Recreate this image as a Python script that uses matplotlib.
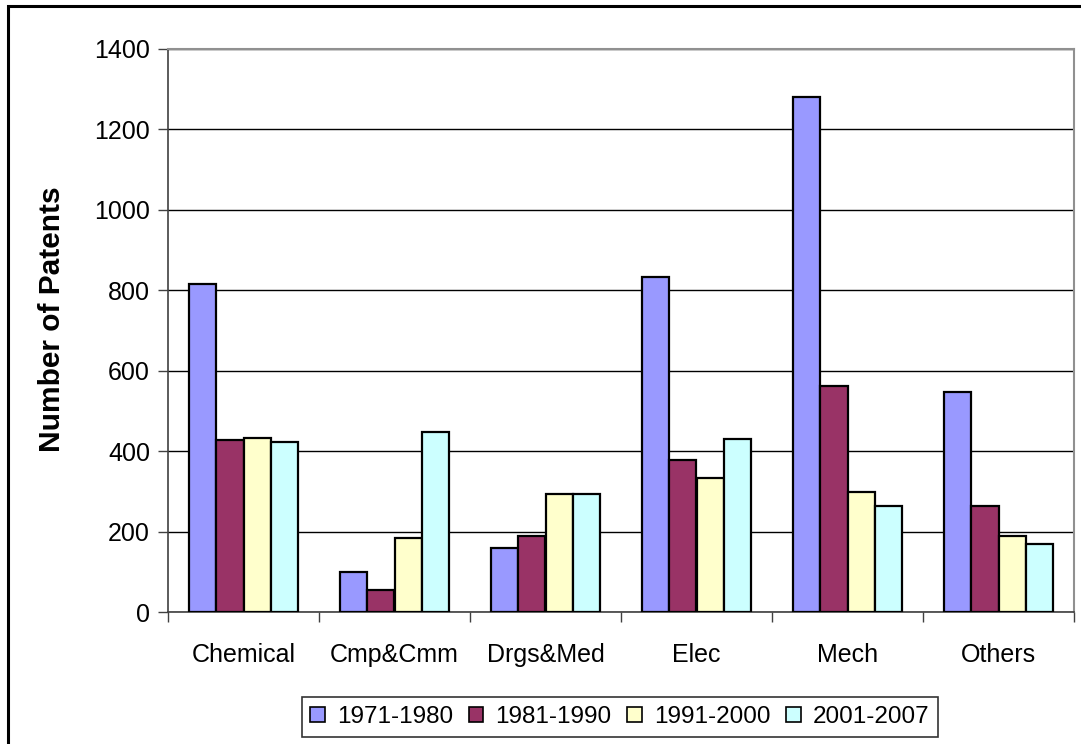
import matplotlib
matplotlib.use("Agg")
import matplotlib.pyplot as plt
import numpy as np
from matplotlib.patches import Rectangle

plt.rcParams['font.family'] = ['Liberation Sans', 'DejaVu Sans']

categories = ["Chemical", "Cmp&Cmm", "Drgs&Med", "Elec", "Mech", "Others"]
periods = ["1971-1980", "1981-1990", "1991-2000", "2001-2007"]
counts_1971_1980 = [816, 99, 159, 833, 1280, 546]
counts_1981_1990 = [427, 54, 189, 377, 561, 263]
counts_1991_2000 = [432, 184, 293, 332, 299, 188]
counts_2001_2007 = [422, 447, 293, 431, 263, 169]
series = [counts_1971_1980, counts_1981_1990, counts_1991_2000, counts_2001_2007]
colors = ["#9999FF", "#993366", "#FFFFCC", "#CCFFFF"]
y_ticks = [0, 200, 400, 600, 800, 1000, 1200, 1400]

W, H = 1081, 744
fig = plt.figure(figsize=(W / 100, H / 100), dpi=100)
fig.patch.set_facecolor("white")

left, right, top, bottom = 168, 1074, 49, 612
ax = fig.add_axes([left / W, 1 - bottom / H, (right - left) / W, (bottom - top) / H])

x = np.arange(len(categories))
bw = 1 / 5.5
for i, (vals, col, lab) in enumerate(zip(series, colors, periods)):
    ax.bar(x + (i - 1.5) * bw, vals, width=bw, color=col, edgecolor="black",
           linewidth=1.6, label=lab, zorder=3)

ax.set_xlim(-0.5, len(categories) - 0.5)
ax.set_ylim(0, 1400)
ax.set_yticks(y_ticks)
ax.yaxis.grid(True, color="black", linewidth=1.0, zorder=1)
ax.set_axisbelow(True)

# category boundaries carry the tick marks, centres carry the labels
ax.set_xticks(np.arange(-0.5, len(categories) + 0.5, 1.0))
ax.set_xticklabels([])
ax.set_xticks(x, minor=True)
ax.set_xticklabels(categories, minor=True)
ax.tick_params(axis="x", which="major", direction="out", length=7, width=1, color="#404040")
ax.tick_params(axis="x", which="minor", length=0, pad=22, labelsize=18)
ax.tick_params(axis="y", direction="out", length=7, width=1, color="#404040",
               labelsize=18, pad=6)

for s in ["top", "right"]:
    ax.spines[s].set_color("#909090")
    ax.spines[s].set_linewidth(1.5)
for s in ["left", "bottom"]:
    ax.spines[s].set_color("#404040")
    ax.spines[s].set_linewidth(1.2)

ax.set_ylabel("Number of Patents", fontsize=21.5, fontweight="bold")
ax.yaxis.set_label_coords((66 - left) / (right - left), 0.52)

leg = fig.legend(loc="center", bbox_to_anchor=(620 / W, 1 - 717 / H), ncol=4,
                 fontsize=17.5, frameon=True, fancybox=False, shadow=False,
                 handlelength=0.6, handleheight=0.6, handletextpad=0.5,
                 columnspacing=0.65, borderpad=0.35, borderaxespad=0)
leg.get_frame().set_edgecolor("black")
leg.get_frame().set_linewidth(1.2)
for h in leg.legend_handles:
    h.set_linewidth(1.2)

# outer chart border (left and top edges visible)
fig.patches.append(Rectangle((8 / W, -0.2), 2.0, (H - 6) / H + 0.2,
                             transform=fig.transFigure, fill=False,
                             edgecolor="black", linewidth=2.2, clip_on=False))

fig.savefig("out.png", dpi=100, facecolor="white")
